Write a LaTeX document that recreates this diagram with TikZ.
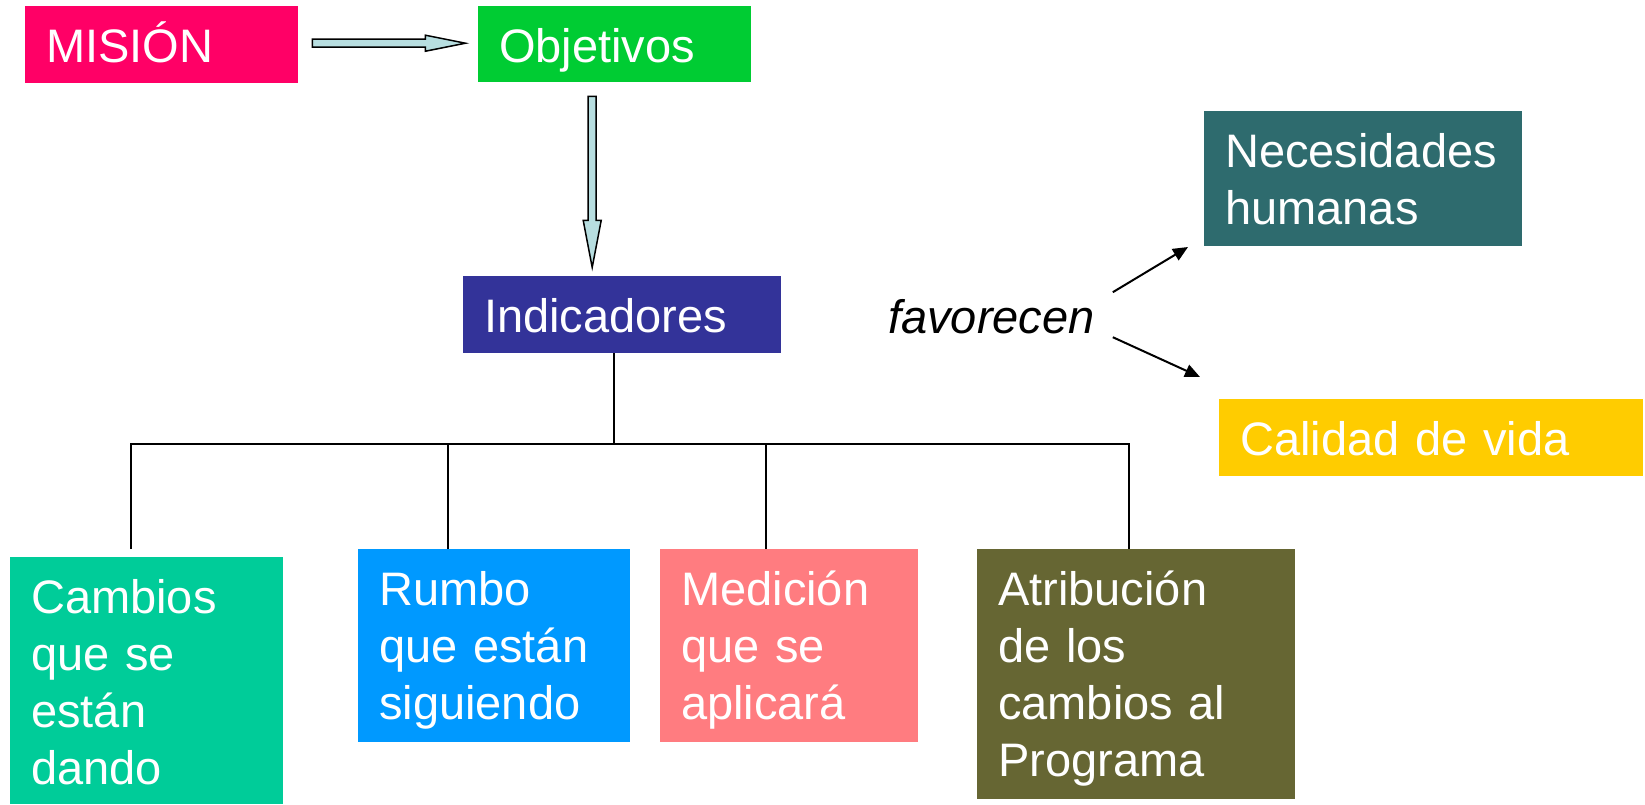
\documentclass[tikz,border=0pt]{standalone}
\usepackage{fontspec}
\setmainfont{Liberation Sans}
\usetikzlibrary{arrows.meta, positioning, calc}

\definecolor{misionrojo}{HTML}{FF0066}
\definecolor{objverde}{HTML}{00CC33}
\definecolor{indazul}{HTML}{333399}
\definecolor{necteal}{HTML}{2E6B6E}
\definecolor{calamarillo}{HTML}{FFCC00}
\definecolor{cambverde}{HTML}{00CC99}
\definecolor{rumboazul}{HTML}{0099FF}
\definecolor{medrosa}{HTML}{FF7C80}
\definecolor{atrolivo}{HTML}{666633}
\definecolor{flechaazul}{HTML}{B7DEE0}

\begin{document}
\begin{tikzpicture}[
        x=1pt, y=-1pt,
        font=\fontsize{47pt}{57pt}\selectfont,
        caja/.style={
            anchor=north west,
            inner xsep=21pt,
            inner ysep=0pt,
            text=white,
            align=left,
            text height=56pt
        },
        bloque/.style={
            draw=black,
            fill=flechaazul,
            line width=1.5pt,
            line join=miter
        },
        rama/.style={
            draw=black,
            line width=1.5pt
        },
        flecha/.style={
            -{Triangle[length=15pt, width=13pt]},
            draw=black,
            line width=2pt
        }
    ]

    \useasboundingbox (0,0) rectangle (1645,804);

    \node[caja, fill=misionrojo, text width=231pt, text depth=21pt] (mision) at (25,6) {MISIÓN};
    \node[caja, fill=objverde, text width=231pt, text depth=20pt] (objetivos) at (478,6) {Objetivos};
    \node[caja, fill=indazul, text width=276pt, text depth=21pt] (indicadores) at (463,276) {Indicadores};

    \node[caja, fill=necteal, text width=276pt, text depth=79pt] (necesidades) at (1204,111) {Necesidades\\humanas};
    \node[caja, fill=calamarillo, text width=382pt, text depth=21pt] (calidad) at (1219,399) {Calidad de vida};

    \node[caja, fill=cambverde, text width=231pt, text depth=191pt] (cambios) at (10,557) {Cambios\\que se\\están\\dando};
    \node[caja, fill=rumboazul, text width=230pt, text depth=137pt] (rumbo) at (358,549) {Rumbo\\que están\\siguiendo};
    \node[caja, fill=medrosa, text width=216pt, text depth=137pt] (medicion) at (660,549) {Medición\\que se\\aplicará};
    \node[caja, fill=atrolivo, text width=276pt, text depth=194pt] (atribucion) at (977,549) {Atribución\\de los\\cambios al\\Programa};

    \node[font=\fontsize{47pt}{57pt}\selectfont\itshape, anchor=base west, inner sep=0pt] (favorecen) at (888,333) {favorecen};

    % flechas de bloque
    \draw[bloque] ($(mision.east)+(14,-5.5)$) -- ++(113,0) -- ++(0,-4) -- ++(40,8)
        -- ++(-40,8) -- ++(0,-4) -- ++(-113,0) -- cycle;
    \draw[bloque] ($(objetivos.south)+(-26.5,14)$) -- ++(8,0) -- ++(0,124) -- ++(5,0)
        -- ++(-9,47) -- ++(-9,-47) -- ++(5,0) -- cycle;

    % arbol de indicadores
    \coordinate (bus) at (614,444);
    \coordinate (d1) at (131,549);
    \coordinate (d2) at (448,549);
    \coordinate (d3) at (766,549);
    \coordinate (d4) at (1129,549);

    \draw[rama] (indicadores.south -| bus) -- (bus);
    \draw[rama] (d1) |- (bus) -| (d4);
    \draw[rama] (d2) -- (d2 |- bus);
    \draw[rama] (d3) -- (d3 |- bus);

    \coordinate (nec) at (1188,247);
    \coordinate (cal) at (1200,377);
    \draw[flecha] ($(favorecen.east)+(18,-24)$) -- (nec);
    \draw[flecha] ($(favorecen.east)+(18,21)$) -- (cal);

\end{tikzpicture}
\end{document}
